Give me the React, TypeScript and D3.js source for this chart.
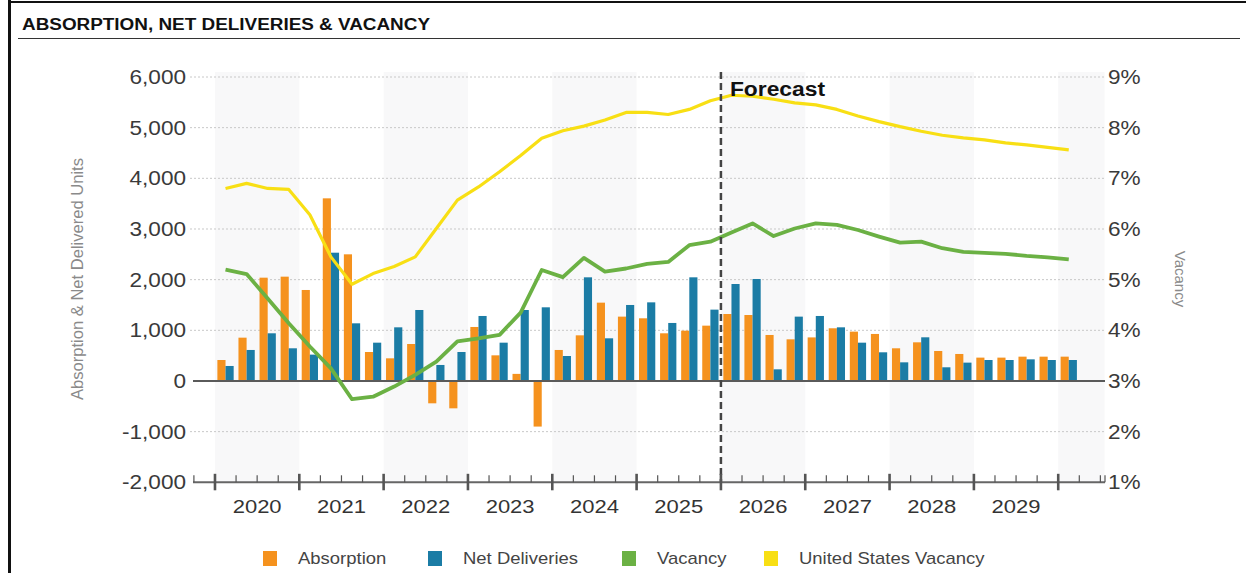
import React from "react";
import * as d3 from "d3";

const years = ["2020", "2021", "2022", "2023", "2024", "2025", "2026", "2027", "2028", "2029"];
const leftTicks = [-2000, -1000, 0, 1000, 2000, 3000, 4000, 5000, 6000];
const rightTicks = [1, 2, 3, 4, 5, 6, 7, 8, 9];

const absorption = [
  414, 855, 2039, 2059,
  1796, 3605, 2500, 572,
  447, 730, -441, -540,
  1066, 506, 140, -900,
  612, 901, 1546, 1270,
  1237, 941, 993, 1092,
  1322, 1302, 908, 822,
  860, 1040, 974, 928,
  645, 763, 592, 533,
  461, 461, 480, 480,
  480,
];
const deliveries = [
  296, 612, 941, 645,
  520, 2532, 1138, 756,
  1059, 1401, 316, 572,
  1283, 756, 1401, 1454,
  493, 2046, 842, 1500,
  1552, 1145, 2046, 1408,
  1914, 2013, 230, 1270,
  1283, 1059, 756, 566,
  368, 862, 270, 362,
  414, 414, 427, 414,
  414,
];
const vacancy = [
  5.2, 5.11, 4.63, 4.14,
  3.68, 3.25, 2.64, 2.69,
  2.89, 3.12, 3.38, 3.78,
  3.84, 3.91, 4.35, 5.19,
  5.05, 5.43, 5.16, 5.22,
  5.31, 5.35, 5.68, 5.75,
  5.93, 6.11, 5.86, 6.01,
  6.11, 6.08, 5.98, 5.85,
  5.73, 5.75, 5.62, 5.55,
  5.53, 5.51, 5.47, 5.44,
  5.4,
];
const usVacancy = [
  6.8, 6.9, 6.8, 6.78,
  6.28, 5.45, 4.91, 5.12,
  5.26, 5.45, 6.01, 6.57,
  6.83, 7.13, 7.45, 7.79,
  7.94, 8.03, 8.15, 8.3,
  8.3, 8.26, 8.36, 8.53,
  8.64, 8.62, 8.56, 8.49,
  8.45, 8.36, 8.23, 8.12,
  8.02, 7.93, 7.85, 7.8,
  7.76, 7.7, 7.66, 7.61,
  7.56,
];
const forecastStart = 24; // quarter index where forecast begins
const legendItems = [
  { label: "Absorption", color: "#F5921E" },
  { label: "Net Deliveries", color: "#1B7CA5" },
  { label: "Vacancy", color: "#6BB144" },
  { label: "United States Vacancy", color: "#F8DF14" },
];

const ORANGE = "#F5921E";
const BLUE = "#1B7CA5";
const GREEN = "#6BB144";
const YELLOW = "#F8DF14";
const FONT = "'Liberation Sans', Arial, Helvetica, sans-serif";
const SX = 1.17;

function Txt(props: any) {
  const { x, y, size, anchor = "start", weight = "normal", fill = "#333", sx = SX, children, baseline } = props;
  return (
    <text
      transform={`translate(${x},${y}) scale(${sx},1)`}
      textAnchor={anchor}
      fontSize={size}
      fontWeight={weight}
      fill={fill}
      fontFamily={FONT}
      dominantBaseline={baseline}
    >
      {children}
    </text>
  );
}

const fmt = (t: number) => d3.format(",")(t).replace("\u2212", "-");

export default function App() {
  const W = 1246;
  const H = 573;
  const x = d3.scaleLinear().domain([-1, 42.2]).range([193.9, 1104.6]);
  const yL = d3.scaleLinear().domain([-2000, 6000]).range([482.3, 77]);
  const yR = d3.scaleLinear().domain([1, 9]).range([482.3, 77]);
  const qw = x(1) - x(0);
  const pad = 2.4;
  const bw = (qw - 2 * pad) / 2;

  const lineV = d3
    .line<number>()
    .x((_, i) => x(i + 0.5))
    .y((d) => yR(d));

  const bandYears = [0, 2, 4, 6, 8, 10];
  const tickIdx = d3.range(-1, 43);

  return (
    <svg
      width={W}
      height={H}
      style={{ position: "absolute", left: 0, top: 0, display: "block", background: "#fff" }}
    >
      {/* frame */}
      <line x1={9.5} x2={9.5} y1={0} y2={H} stroke="#111" strokeWidth={3} />
      <line x1={8} x2={W} y1={2} y2={2} stroke="#111" strokeWidth={2} />
      <text
        x={22}
        y={30}
        fontFamily={FONT}
        fontWeight="bold"
        fontSize={16}
        fill="#111"
        textLength={408}
        lengthAdjust="spacingAndGlyphs"
      >
        ABSORPTION, NET DELIVERIES &amp; VACANCY
      </text>
      <line x1={18} x2={1240} y1={38.5} y2={38.5} stroke="#333" strokeWidth={1} />

      {/* year bands */}
      {bandYears.map((k) => (
        <rect
          key={k}
          x={x(k * 4)}
          y={72}
          width={Math.min(x(k * 4 + 4), x(42.2)) - x(k * 4)}
          height={yL(-2000) - 72}
          fill="#F8F8F9"
        />
      ))}

      {/* gridlines */}
      {leftTicks
        .filter((t) => t !== 0 && t !== -2000)
        .map((t) => (
          <line
            key={t}
            x1={190}
            x2={1104}
            y1={yL(t)}
            y2={yL(t)}
            stroke="#C8C8C8"
            strokeWidth={1}
            strokeDasharray="2,2"
          />
        ))}

      {/* bars */}
      {absorption.map((v, i) => (
        <rect
          key={"a" + i}
          x={x(i) + pad}
          y={Math.min(yL(v), yL(0))}
          width={bw}
          height={Math.abs(yL(v) - yL(0))}
          fill={ORANGE}
        />
      ))}
      {deliveries.map((v, i) => (
        <rect
          key={"d" + i}
          x={x(i) + pad + bw}
          y={Math.min(yL(v), yL(0))}
          width={bw}
          height={Math.abs(yL(v) - yL(0))}
          fill={BLUE}
        />
      ))}

      {/* zero line */}
      <line x1={193} x2={1105} y1={yL(0)} y2={yL(0)} stroke="#5A5A5A" strokeWidth={2} />

      {/* vacancy lines */}
      <path d={lineV(usVacancy) || ""} fill="none" stroke={YELLOW} strokeWidth={3.2} strokeLinejoin="round" />
      <path d={lineV(vacancy) || ""} fill="none" stroke={GREEN} strokeWidth={3.8} strokeLinejoin="round" />

      {/* forecast */}
      <line
        x1={x(forecastStart)}
        x2={x(forecastStart)}
        y1={72}
        y2={yL(-2000)}
        stroke="#444"
        strokeWidth={2.5}
        strokeDasharray="7,4"
      />
      <Txt x={x(forecastStart) + 9} y={96} size={19.5} weight="bold" fill="#111">
        Forecast
      </Txt>

      {/* x axis */}
      <line x1={193} x2={1105} y1={yL(-2000)} y2={yL(-2000)} stroke="#666" strokeWidth={2} />
      {tickIdx.map((i) => {
        const major = i % 4 === 0;
        return (
          <line
            key={"t" + i}
            x1={x(i)}
            x2={x(i)}
            y1={major ? yL(-2000) - 8.5 : yL(-2000) - 7}
            y2={major ? yL(-2000) + 8 : yL(-2000)}
            stroke="#555"
            strokeWidth={major ? 2.6 : 1.2}
          />
        );
      })}
      <line x1={1105} x2={1105} y1={yL(-2000) - 7} y2={yL(-2000)} stroke="#555" strokeWidth={1.2} />
      {years.map((yr, k) => (
        <Txt key={yr} x={x(k * 4 + 2)} y={513} size={18.8} anchor="middle" fill="#333">
          {yr}
        </Txt>
      ))}

      {/* left axis labels */}
      {leftTicks.map((t) => (
        <Txt key={t} x={186} y={yL(t) + 7} size={19.3} anchor="end" fill="#3a3a3a">
          {fmt(t)}
        </Txt>
      ))}
      {/* right axis labels */}
      {rightTicks.map((t) => (
        <Txt key={t} x={1108} y={yR(t) + 7} size={19.3} anchor="start" fill="#3a3a3a">
          {t + "%"}
        </Txt>
      ))}

      {/* axis titles */}
      <text
        transform={`translate(83,279) rotate(-90)`}
        textAnchor="middle"
        fontFamily={FONT}
        fontSize={16}
        fill="#8a8a8a"
        textLength={242}
        lengthAdjust="spacingAndGlyphs"
      >
        Absorption &amp; Net Delivered Units
      </text>
      <text
        transform={`translate(1175,279) rotate(90)`}
        textAnchor="middle"
        fontFamily={FONT}
        fontSize={15}
        fill="#8a8a8a"
      >
        Vacancy
      </text>

      {/* legend */}
      {(() => {
        const xs = [263, 428, 622, 764];
        return legendItems.map((it, i) => (
          <g key={it.label}>
            <rect x={xs[i]} y={551} width={14} height={15} fill={it.color} />
            <Txt x={xs[i] + 35} y={564} size={15.8} fill="#444">
              {it.label}
            </Txt>
          </g>
        ));
      })()}
    </svg>
  );
}
